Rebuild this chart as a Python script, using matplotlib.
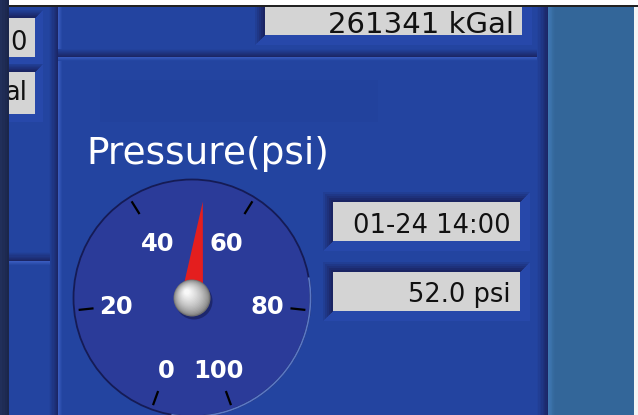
import numpy as np
import matplotlib
matplotlib.use("Agg")
import matplotlib.pyplot as plt
from matplotlib import font_manager
from matplotlib.patches import Rectangle, Circle, Polygon, Arc
from matplotlib.colors import to_rgb

# ---------------- data ----------------
gauge_title = "Pressure(psi)"
scale_min, scale_max = 0, 100
tick_values = [0, 20, 40, 60, 80, 100]
tick_labels = ["0", "20", "40", "60", "80", "100"]
pressure_value = 52.0
timestamp_text = "01-24 14:00"
value_text = "52.0 psi"
total_text = "261341 kGal"
left_box_texts = ["0", "al"]

START_ANG, END_ANG = -160.0, 160.0   # gauge sweep, degrees clockwise from top

# ---------------- colours ----------------
PANEL = "#2344a0"
DARK = "#1a2462"
NAVY = "#1e2b55"
STEEL = "#336699"
BOXGRAY = "#d4d4d4"
FACE = "#2b3b99"

installed = {f.name for f in font_manager.fontManager.ttflist}
if "Liberation Sans Narrow" in installed:
    TOTAL_FAM, TOTAL_FS = ["Liberation Sans Narrow", "DejaVu Sans"], 28.0
else:
    TOTAL_FAM, TOTAL_FS = ["DejaVu Sans"], 21.0

fig = plt.figure(figsize=(6.38, 4.15), dpi=100)
ax = fig.add_axes([0, 0, 1, 1])
ax.set_xlim(0, 638)
ax.set_ylim(415, 0)
ax.axis("off")


def lerp(c1, c2, t):
    a, b = np.array(to_rgb(c1)), np.array(to_rgb(c2))
    return tuple(a + (b - a) * t)


def rect(x0, y0, x1, y1, c, z=1, **kw):
    ax.add_patch(Rectangle((x0, y0), x1 - x0, y1 - y0, facecolor=c,
                           edgecolor="none", zorder=z, **kw))


def band(x0, y0, x1, y1, c_from, c_to, vertical=True, n=8, z=2):
    for i in range(n):
        t = (i + 0.5) / n
        c = lerp(c_from, c_to, t)
        if vertical:
            w = (x1 - x0) / n
            rect(x0 + i * w, y0, x0 + (i + 1) * w + 0.3, y1, c, z)
        else:
            h = (y1 - y0) / n
            rect(x0, y0 + i * h, x1, y0 + (i + 1) * h + 0.3, c, z)


def inset_box(x0, y0, x1, y1, d=10, z=3):
    ax.add_patch(Polygon([(x1 + d, y0 - d), (x1 + d, y1 + d), (x0 - d, y1 + d),
                          (x0, y1), (x1, y1), (x1, y0)],
                         closed=True, facecolor="#2748aa", edgecolor="none", zorder=z))
    steps = 5
    for i in range(steps):
        dd = d * (1 - i / steps)
        c = lerp(PANEL, DARK, (i + 1) / steps)
        ax.add_patch(Polygon([(x0 - dd, y1 + dd), (x0 - dd, y0 - dd), (x1 + dd, y0 - dd),
                              (x1, y0), (x0, y0), (x0, y1)],
                             closed=True, facecolor=c, edgecolor="none", zorder=z + 0.1 * i))
    rect(x0, y0, x1, y1, BOXGRAY, z + 1)


# ---------------- background panels ----------------
rect(0, 0, 638, 415, PANEL, 0)
rect(100, 80, 378, 122, "#22429d", 1)

band(49, 0, 58, 415, PANEL, DARK, vertical=True)
band(58, 0, 62, 415, "#3a5cc0", PANEL, vertical=True)
band(58, 49, 548, 57, PANEL, DARK, vertical=False)
band(58, 57, 548, 61, "#3a5cc0", PANEL, vertical=False)
band(9, 252, 50, 261, PANEL, DARK, vertical=False)
band(9, 261, 50, 265, "#3a5cc0", PANEL, vertical=False)
band(537, 0, 548, 415, PANEL, DARK, vertical=True)
rect(548, 0, 634, 415, STEEL, 3)
band(548, 0, 555, 415, "#4079b4", STEEL, vertical=True, z=3.1)
rect(634, 0, 638, 415, "#f4f4f4", 3)

# ---------------- text boxes ----------------
inset_box(265, 2, 522, 35)
ax.text(514, 33, total_text, ha="right", va="baseline", fontsize=TOTAL_FS,
        color="#111111", family=TOTAL_FAM, zorder=6)

inset_box(333, 202, 520, 241)
ax.text(511, 233, timestamp_text, ha="right", va="baseline", fontsize=18.5,
        color="#111111", family="DejaVu Sans", zorder=6)

inset_box(333, 272, 520, 311)
ax.text(511, 302, value_text, ha="right", va="baseline", fontsize=18.5,
        color="#111111", family="DejaVu Sans", zorder=6)

left_boxes = [(18, 57, 50), (72, 114, 100)]
for (y0, y1, base), txt in zip(left_boxes, left_box_texts):
    inset_box(9, y0, 35, y1, d=8)
    ax.text(27, base, txt, ha="right", va="baseline", fontsize=18.5,
            color="#111111", family="DejaVu Sans", zorder=6)

# ---------------- title ----------------
ax.text(86, 164, gauge_title, ha="left", va="baseline", fontsize=27,
        color="white", family="DejaVu Sans", zorder=6)

# ---------------- gauge ----------------
cx, cy, R = 192.0, 298.0, 118.5


def ang_of(v):
    return np.radians(START_ANG + (v - scale_min) / (scale_max - scale_min) * (END_ANG - START_ANG))


def pt(theta, r):
    return cx + r * np.sin(theta), cy - r * np.cos(theta)


ax.add_patch(Circle((cx, cy), R, facecolor=FACE, edgecolor="#151b55", lw=1.3, zorder=7))
ax.add_patch(Arc((cx, cy), 2 * R, 2 * R, theta1=-10, theta2=100,
                 edgecolor="#5a78c4", lw=1.2, zorder=7.2))

for v, lab in zip(tick_values, tick_labels):
    th = ang_of(v)
    x0, y0 = pt(th, 99)
    x1, y1 = pt(th, 114)
    ax.plot([x0, x1], [y0, y1], color="black", lw=1.6, zorder=8, solid_capstyle="butt")
    r_lab = 76 - 12.4 * max(np.cos(th), 0)
    lx, ly = pt(th, r_lab)
    ax.text(lx, ly + 1.5, lab, ha="center", va="center", fontsize=17.5, fontweight="bold",
            color="white", family="DejaVu Sans", zorder=8)

# needle
th = ang_of(pressure_value)
tip = pt(th, 97)
perp = np.array([np.cos(th), np.sin(th)])
b1 = (cx + 11 * perp[0], cy + 11 * perp[1])
b2 = (cx - 11 * perp[0], cy - 11 * perp[1])
ax.add_patch(Polygon([b1, tip, b2], closed=True, facecolor="#e41e1e",
                     edgecolor="none", zorder=9))

# hub (shaded sphere)
ax.add_patch(Circle((cx + 2, cy + 3), 18.5, facecolor="#141a50", alpha=0.6,
                    edgecolor="none", zorder=9.5))
n = 18
for i in range(n):
    t = i / (n - 1)
    r = 18.5 * (1 - 0.85 * t)
    c = lerp("#707070", "#f8f8f8", t ** 0.6)
    ax.add_patch(Circle((cx - 5 * t, cy - 6 * t), r, facecolor=c, edgecolor="none",
                        zorder=10 + 0.01 * i))

# ---------------- frame strips on top ----------------
rect(9, 0, 638, 5, "#ffffff", 20)
rect(9, 5, 638, 7, "#222222", 20)
band(0, 0, 9, 415, "#22305c", "#1a2548", vertical=True, n=4, z=21.1)

fig.savefig("out.png", dpi=100)
